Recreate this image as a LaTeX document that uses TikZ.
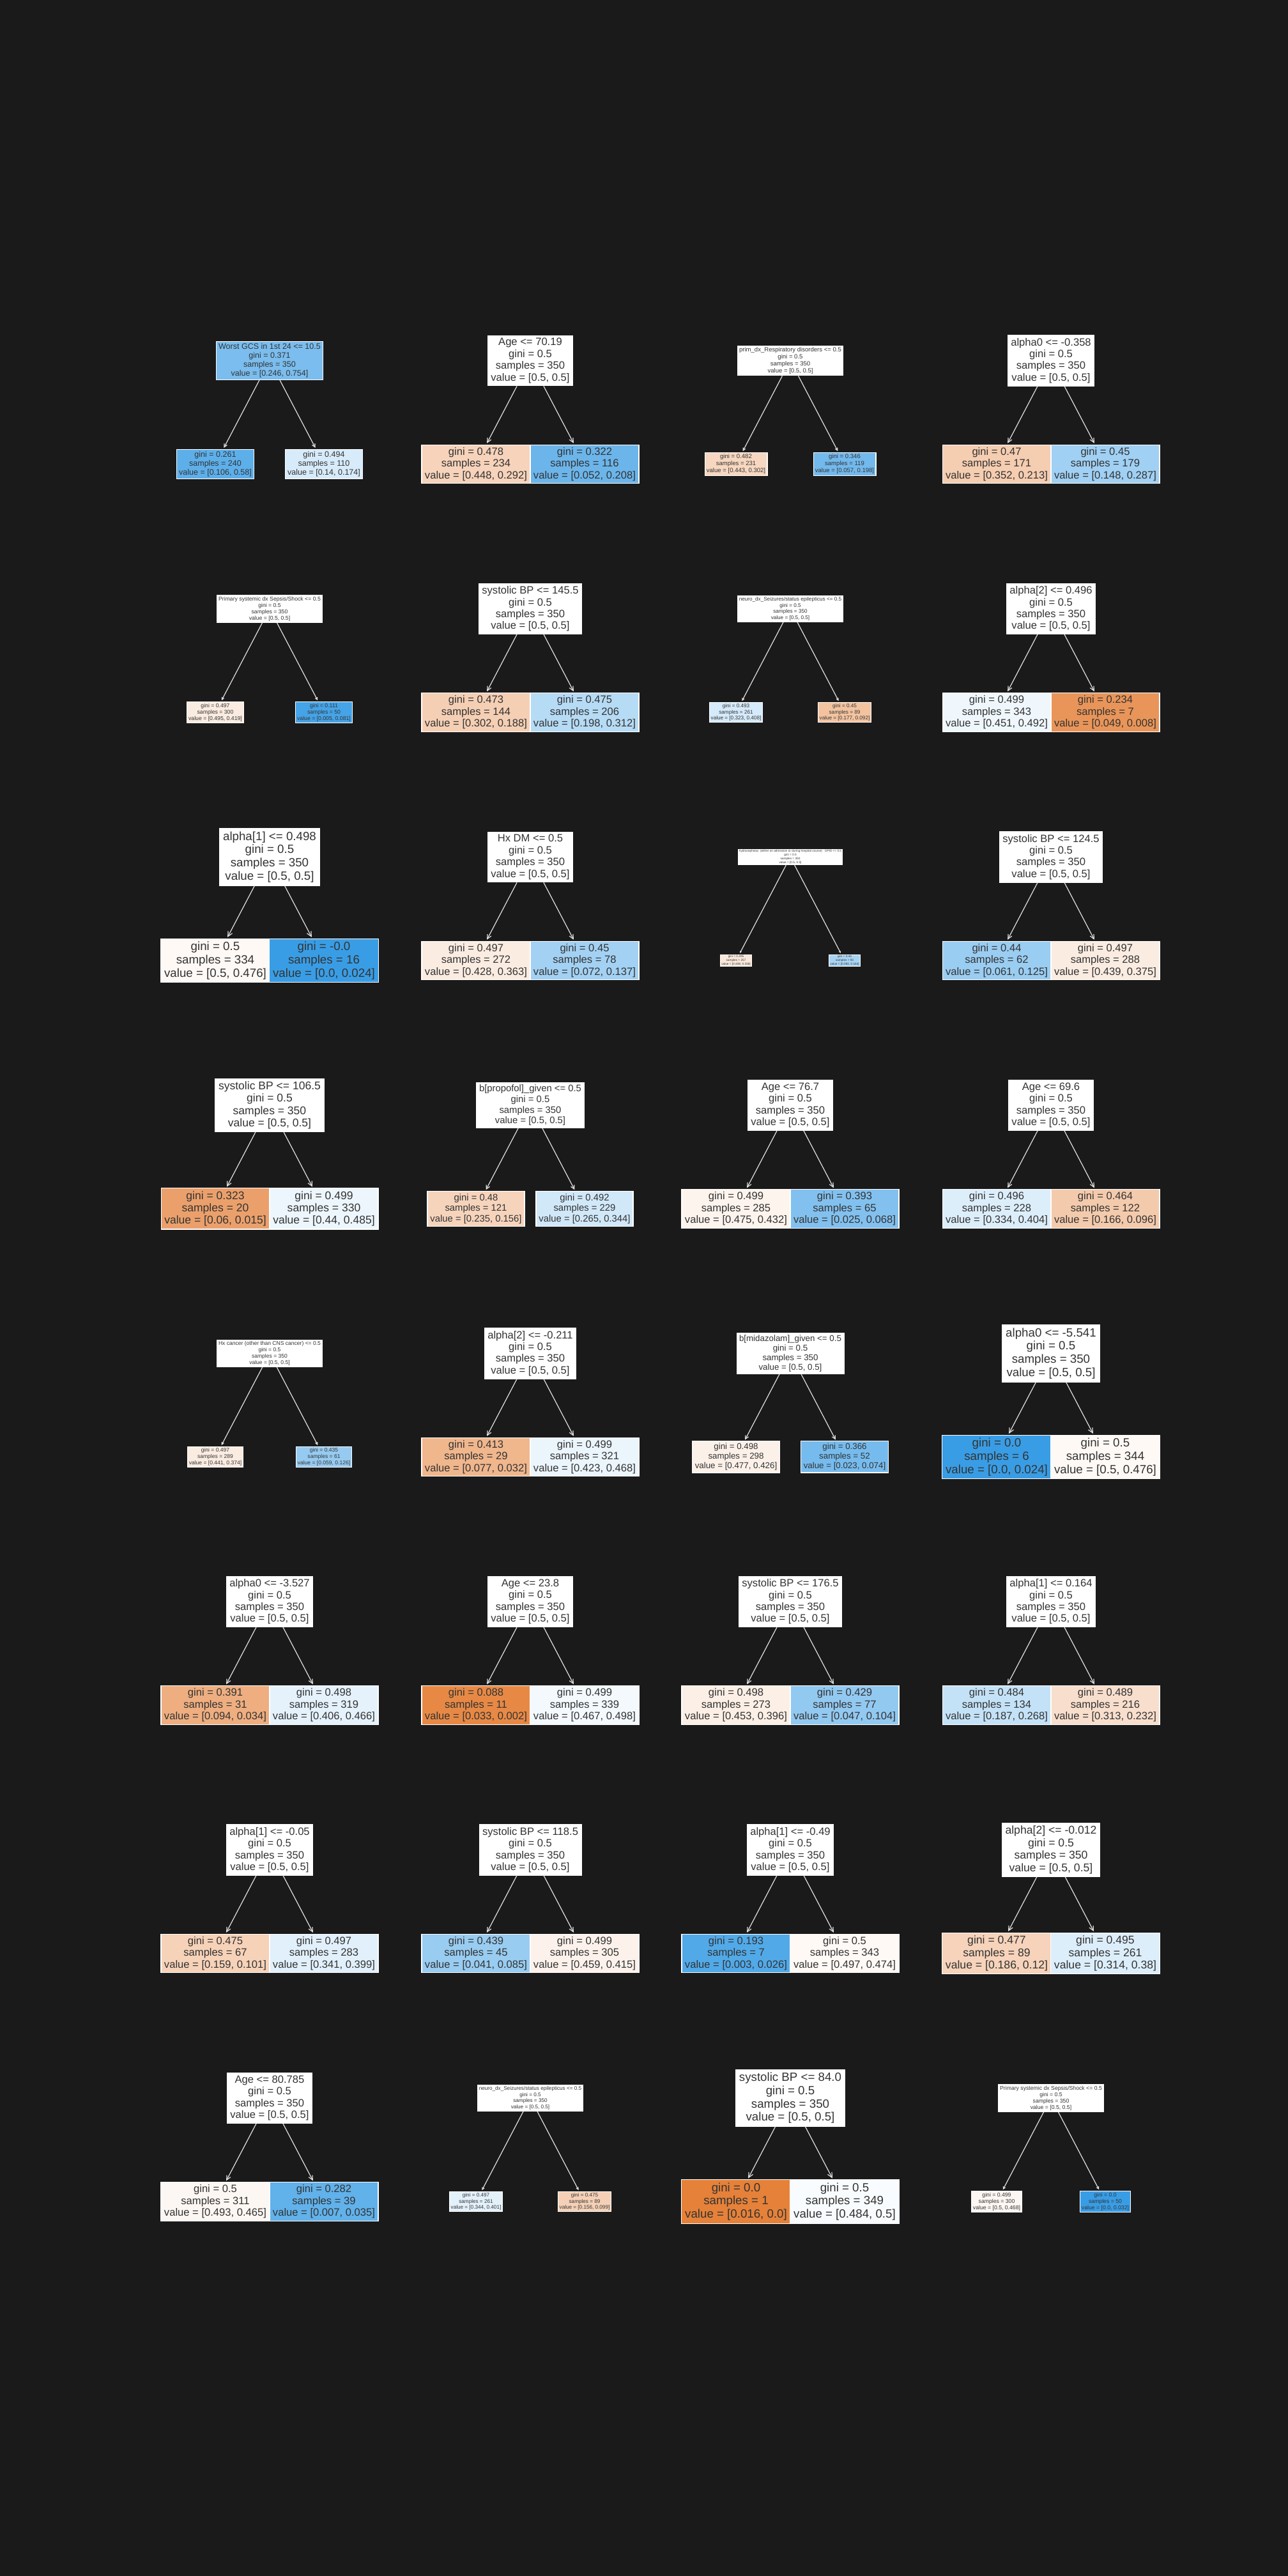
\documentclass[tikz,border=0pt]{standalone}
\usepackage{fontspec}
\setmainfont{Liberation Sans}
\usepackage{tikz}
\usetikzlibrary{arrows.meta}
\definecolor{bgdark}{RGB}{26,26,26}
\definecolor{txtgray}{RGB}{51,51,51}
\definecolor{linegray}{RGB}{222,222,222}
\definecolor{clsA}{RGB}{229,129,57}
\definecolor{clsB}{RGB}{57,157,229}

\tikzset{
  treefont/.style={/utils/exec={\pgfmathsetmacro\bskip{1.06*#1+0.25}\pgfmathsetmacro\hlen{0.4*#1}%
      \pgfmathsetmacro\xpad{0.3*#1}\pgfmathsetmacro\ypad{0.25*#1}},
    font=\fontsize{#1pt}{\bskip pt}\selectfont},
  treenode/.style={draw=white, line width=0.3pt, text=txtgray, align=center,
    inner xsep=\xpad pt, inner ysep=\ypad pt},
  edge/.style={draw=linegray, line width=0.35pt,
    -{Straight Barb[length=\hlen pt, width=\hlen pt]}, shorten >=0.6pt}
}

% one stump: name, position, font size, root fill, root text, left fill, left text, right fill, right text
\newcommand{\stump}[9]{%
  \begin{scope}[shift={#2}, treefont=#3]
    \node[treenode, fill=#4] (#1) at (0,0) {#5};
    \node[treenode, fill=#6] (#1l) at (-0.85,-1.62) {#7};
    \node[treenode, fill=#8] (#1r) at (0.85,-1.62) {#9};
    \draw[edge] (#1) -- (#1l);
    \draw[edge] (#1) -- (#1r);
  \end{scope}}

\begin{document}
\begin{tikzpicture}
  \useasboundingbox (0,0) rectangle (20.16,40.32);
  \fill[bgdark] (0,0) rectangle (20.16,40.32);

  % Row 1
  \stump{t11}{(4.22,34.675)}{3.56}{clsB!67}{Worst GCS in 1st 24 <= 10.5\\gini = 0.371\\samples = 350\\value = [0.246, 0.754]}
    {clsB!82}{gini = 0.261\\samples = 240\\value = [0.106, 0.58]}
    {clsB!20}{gini = 0.494\\samples = 110\\value = [0.14, 0.174]}
  \stump{t12}{(8.30,34.675)}{4.72}{white}{Age <= 70.19\\gini = 0.5\\samples = 350\\value = [0.5, 0.5]}
    {clsA!35}{gini = 0.478\\samples = 234\\value = [0.448, 0.292]}
    {clsB!75}{gini = 0.322\\samples = 116\\value = [0.052, 0.208]}
  \stump{t13}{(12.37,34.675)}{2.72}{white}{prim\_dx\_Respiratory disorders <= 0.5\\gini = 0.5\\samples = 350\\value = [0.5, 0.5]}
    {clsA!32}{gini = 0.482\\samples = 231\\value = [0.443, 0.302]}
    {clsB!71}{gini = 0.346\\samples = 119\\value = [0.057, 0.198]}
  \stump{t14}{(16.45,34.675)}{4.72}{white}{alpha0 <= -0.358\\gini = 0.5\\samples = 350\\value = [0.5, 0.5]}
    {clsA!40}{gini = 0.47\\samples = 171\\value = [0.352, 0.213]}
    {clsB!48}{gini = 0.45\\samples = 179\\value = [0.148, 0.287]}

  % Row 2
  \stump{t21}{(4.22,30.79)}{2.47}{white}{Primary systemic dx Sepsis/Shock <= 0.5\\gini = 0.5\\samples = 350\\value = [0.5, 0.5]}
    {clsA!15}{gini = 0.497\\samples = 300\\value = [0.495, 0.419]}
    {clsB!94}{gini = 0.111\\samples = 50\\value = [0.005, 0.081]}
  \stump{t22}{(8.30,30.79)}{4.72}{white}{systolic BP <= 145.5\\gini = 0.5\\samples = 350\\value = [0.5, 0.5]}
    {clsA!38}{gini = 0.473\\samples = 144\\value = [0.302, 0.188]}
    {clsB!37}{gini = 0.475\\samples = 206\\value = [0.198, 0.312]}
  \stump{t23}{(12.37,30.79)}{2.32}{white}{neuro\_dx\_Seizures/status epilepticus <= 0.5\\gini = 0.5\\samples = 350\\value = [0.5, 0.5]}
    {clsB!21}{gini = 0.493\\samples = 261\\value = [0.323, 0.408]}
    {clsA!48}{gini = 0.45\\samples = 89\\value = [0.177, 0.092]}
  \stump{t24}{(16.45,30.79)}{4.72}{white}{alpha[2] <= 0.496\\gini = 0.5\\samples = 350\\value = [0.5, 0.5]}
    {clsB!8}{gini = 0.499\\samples = 343\\value = [0.451, 0.492]}
    {clsA!84}{gini = 0.234\\samples = 7\\value = [0.049, 0.008]}

  % Row 3
  \stump{t31}{(4.22,26.905)}{5.33}{white}{alpha[1] <= 0.498\\gini = 0.5\\samples = 350\\value = [0.5, 0.5]}
    {clsA!5}{gini = 0.5\\samples = 334\\value = [0.5, 0.476]}
    {clsB}{gini = -0.0\\samples = 16\\value = [0.0, 0.024]}
  \stump{t32}{(8.30,26.905)}{4.72}{white}{Hx DM <= 0.5\\gini = 0.5\\samples = 350\\value = [0.5, 0.5]}
    {clsA!15}{gini = 0.497\\samples = 272\\value = [0.428, 0.363]}
    {clsB!47}{gini = 0.45\\samples = 78\\value = [0.072, 0.137]}
  \stump{t33}{(12.37,26.905)}{1.34}{white}{hydrocephalus\ \ (either on admission or during hospital course)\ \ \ GPID <= 0.5\\gini = 0.5\\samples = 350\\value = [0.5, 0.5]}
    {clsA!18}{gini = 0.495\\samples = 257\\value = [0.408, 0.336]}
    {clsB!44}{gini = 0.46\\samples = 93\\value = [0.092, 0.164]}
  \stump{t34}{(16.45,26.905)}{4.72}{white}{systolic BP <= 124.5\\gini = 0.5\\samples = 350\\value = [0.5, 0.5]}
    {clsB!51}{gini = 0.44\\samples = 62\\value = [0.061, 0.125]}
    {clsA!15}{gini = 0.497\\samples = 288\\value = [0.439, 0.375]}

  % Row 4
  \stump{t41}{(4.22,23.02)}{4.99}{white}{systolic BP <= 106.5\\gini = 0.5\\samples = 350\\value = [0.5, 0.5]}
    {clsA!75}{gini = 0.323\\samples = 20\\value = [0.06, 0.015]}
    {clsB!9}{gini = 0.499\\samples = 330\\value = [0.44, 0.485]}
  \stump{t42}{(8.30,23.02)}{4.22}{white}{b[propofol]\_given <= 0.5\\gini = 0.5\\samples = 350\\value = [0.5, 0.5]}
    {clsA!34}{gini = 0.48\\samples = 121\\value = [0.235, 0.156]}
    {clsB!23}{gini = 0.492\\samples = 229\\value = [0.265, 0.344]}
  \stump{t43}{(12.37,23.02)}{4.72}{white}{Age <= 76.7\\gini = 0.5\\samples = 350\\value = [0.5, 0.5]}
    {clsA!9}{gini = 0.499\\samples = 285\\value = [0.475, 0.432]}
    {clsB!63}{gini = 0.393\\samples = 65\\value = [0.025, 0.068]}
  \stump{t44}{(16.45,23.02)}{4.72}{white}{Age <= 69.6\\gini = 0.5\\samples = 350\\value = [0.5, 0.5]}
    {clsB!17}{gini = 0.496\\samples = 228\\value = [0.334, 0.404]}
    {clsA!42}{gini = 0.464\\samples = 122\\value = [0.166, 0.096]}

  % Row 5
  \stump{t51}{(4.22,19.135)}{2.43}{white}{Hx cancer (other than CNS cancer) <= 0.5\\gini = 0.5\\samples = 350\\value = [0.5, 0.5]}
    {clsA!15}{gini = 0.497\\samples = 289\\value = [0.441, 0.374]}
    {clsB!53}{gini = 0.435\\samples = 61\\value = [0.059, 0.126]}
  \stump{t52}{(8.30,19.135)}{4.72}{white}{alpha[2] <= -0.211\\gini = 0.5\\samples = 350\\value = [0.5, 0.5]}
    {clsA!58}{gini = 0.413\\samples = 29\\value = [0.077, 0.032]}
    {clsB!10}{gini = 0.499\\samples = 321\\value = [0.423, 0.468]}
  \stump{t53}{(12.37,19.135)}{3.79}{white}{b[midazolam]\_given <= 0.5\\gini = 0.5\\samples = 350\\value = [0.5, 0.5]}
    {clsA!11}{gini = 0.498\\samples = 298\\value = [0.477, 0.426]}
    {clsB!69}{gini = 0.366\\samples = 52\\value = [0.023, 0.074]}
  \stump{t54}{(16.45,19.135)}{5.33}{white}{alpha0 <= -5.541\\gini = 0.5\\samples = 350\\value = [0.5, 0.5]}
    {clsB}{gini = 0.0\\samples = 6\\value = [0.0, 0.024]}
    {clsA!5}{gini = 0.5\\samples = 344\\value = [0.5, 0.476]}

  % Row 6
  \stump{t61}{(4.22,15.25)}{4.72}{white}{alpha0 <= -3.527\\gini = 0.5\\samples = 350\\value = [0.5, 0.5]}
    {clsA!64}{gini = 0.391\\samples = 31\\value = [0.094, 0.034]}
    {clsB!13}{gini = 0.498\\samples = 319\\value = [0.406, 0.466]}
  \stump{t62}{(8.30,15.25)}{4.72}{white}{Age <= 23.8\\gini = 0.5\\samples = 350\\value = [0.5, 0.5]}
    {clsA!94}{gini = 0.088\\samples = 11\\value = [0.033, 0.002]}
    {clsB!6}{gini = 0.499\\samples = 339\\value = [0.467, 0.498]}
  \stump{t63}{(12.37,15.25)}{4.72}{white}{systolic BP <= 176.5\\gini = 0.5\\samples = 350\\value = [0.5, 0.5]}
    {clsA!13}{gini = 0.498\\samples = 273\\value = [0.453, 0.396]}
    {clsB!55}{gini = 0.429\\samples = 77\\value = [0.047, 0.104]}
  \stump{t64}{(16.45,15.25)}{4.72}{white}{alpha[1] <= 0.164\\gini = 0.5\\samples = 350\\value = [0.5, 0.5]}
    {clsB!30}{gini = 0.484\\samples = 134\\value = [0.187, 0.268]}
    {clsA!26}{gini = 0.489\\samples = 216\\value = [0.313, 0.232]}

  % Row 7
  \stump{t71}{(4.22,11.365)}{4.72}{white}{alpha[1] <= -0.05\\gini = 0.5\\samples = 350\\value = [0.5, 0.5]}
    {clsA!36}{gini = 0.475\\samples = 67\\value = [0.159, 0.101]}
    {clsB!15}{gini = 0.497\\samples = 283\\value = [0.341, 0.399]}
  \stump{t72}{(8.30,11.365)}{4.72}{white}{systolic BP <= 118.5\\gini = 0.5\\samples = 350\\value = [0.5, 0.5]}
    {clsB!52}{gini = 0.439\\samples = 45\\value = [0.041, 0.085]}
    {clsA!10}{gini = 0.499\\samples = 305\\value = [0.459, 0.415]}
  \stump{t73}{(12.37,11.365)}{4.72}{white}{alpha[1] <= -0.49\\gini = 0.5\\samples = 350\\value = [0.5, 0.5]}
    {clsB!88}{gini = 0.193\\samples = 7\\value = [0.003, 0.026]}
    {clsA!5}{gini = 0.5\\samples = 343\\value = [0.497, 0.474]}
  \stump{t74}{(16.45,11.365)}{5.01}{white}{alpha[2] <= -0.012\\gini = 0.5\\samples = 350\\value = [0.5, 0.5]}
    {clsA!35}{gini = 0.477\\samples = 89\\value = [0.186, 0.12]}
    {clsB!17}{gini = 0.495\\samples = 261\\value = [0.314, 0.38]}

  % Row 8
  \stump{t81}{(4.22,7.48)}{4.72}{white}{Age <= 80.785\\gini = 0.5\\samples = 350\\value = [0.5, 0.5]}
    {clsA!6}{gini = 0.5\\samples = 311\\value = [0.493, 0.465]}
    {clsB!80}{gini = 0.282\\samples = 39\\value = [0.007, 0.035]}
  \stump{t82}{(8.30,7.48)}{2.32}{white}{neuro\_dx\_Seizures/status epilepticus <= 0.5\\gini = 0.5\\samples = 350\\value = [0.5, 0.5]}
    {clsB!14}{gini = 0.497\\samples = 261\\value = [0.344, 0.401]}
    {clsA!37}{gini = 0.475\\samples = 89\\value = [0.156, 0.099]}
  \stump{t83}{(12.37,7.48)}{5.32}{white}{systolic BP <= 84.0\\gini = 0.5\\samples = 350\\value = [0.5, 0.5]}
    {clsA}{gini = 0.0\\samples = 1\\value = [0.016, 0.0]}
    {clsB!3}{gini = 0.5\\samples = 349\\value = [0.484, 0.5]}
  \stump{t84}{(16.45,7.48)}{2.47}{white}{Primary systemic dx Sepsis/Shock <= 0.5\\gini = 0.5\\samples = 350\\value = [0.5, 0.5]}
    {clsA!6}{gini = 0.499\\samples = 300\\value = [0.5, 0.468]}
    {clsB}{gini = 0.0\\samples = 50\\value = [0.0, 0.032]}
\end{tikzpicture}
\end{document}
